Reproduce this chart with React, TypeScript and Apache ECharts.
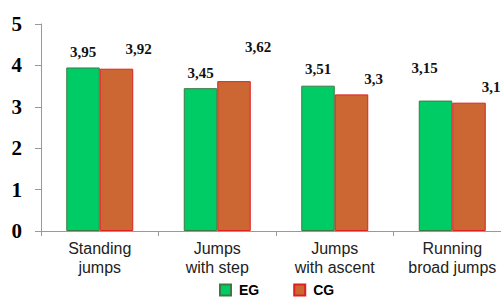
import React, { useEffect, useRef } from "react";
import * as echarts from "echarts";

const categories = ["Standing\njumps", "Jumps\nwith step", "Jumps\nwith ascent", "Running\nbroad jumps"];
const egValues = [3.95, 3.45, 3.51, 3.15];
const cgValues = [3.92, 3.62, 3.3, 3.1];
const yTicks = [0, 1, 2, 3, 4, 5];
const seriesNames = ["EG", "CG"];

// label offsets (style only)
const egLabelOffsets = [[0, -8], [0, -8], [0, -9], [-11, -25]];
const cgLabelOffsets = [[22, -12], [24, -27], [22, -8], [22, -8]];

const fmt = (v: number) => String(v).replace(".", ",");

export default function App() {
  const ref = useRef<HTMLDivElement>(null);
  useEffect(() => {
    if (!ref.current) return;
    const chart = echarts.init(ref.current, null, { renderer: "svg" });
    const labelBase = {
      show: true,
      position: "top",
      distance: 0,
      fontFamily: "Liberation Serif",
      fontWeight: "bold",
      fontSize: 15,
      color: "#111",
      formatter: (p: any) => fmt(p.value),
    };
    chart.setOption({
      animation: false,
      backgroundColor: "#ffffff",
      grid: { left: 41, top: 24, height: 207, width: 470, containLabel: false, outerBoundsMode: "none" },
      legend: {
        data: seriesNames,
        left: 219,
        top: 283,
        padding: 0,
        itemWidth: 11,
        itemHeight: 11,
        itemGap: 34,
        icon: "rect",
        textStyle: {
          fontFamily: "Liberation Sans",
          fontWeight: "bold",
          fontSize: 14,
          lineHeight: 12,
          color: "#000",
          padding: [0, 0, 0, 3],
        },
      },
      xAxis: {
        type: "category",
        data: categories,
        axisLine: { lineStyle: { color: "#999", width: 1 } },
        axisTick: { show: true, length: 5, lineStyle: { color: "#999" } },
        axisLabel: {
          margin: 8,
          fontFamily: "Liberation Sans",
          fontSize: 16,
          lineHeight: 19,
          color: "#222",
          interval: 0,
        },
      },
      yAxis: {
        type: "value",
        min: yTicks[0],
        max: yTicks[yTicks.length - 1],
        interval: 1,
        splitLine: { show: false },
        axisLine: { show: true, lineStyle: { color: "#999", width: 1 } },
        axisTick: { show: true, length: 6, lineStyle: { color: "#999" } },
        axisLabel: {
          margin: 19,
          fontFamily: "Liberation Serif",
          fontWeight: "bold",
          fontSize: 21,
          color: "#000",
        },
      },
      series: [
        {
          name: seriesNames[0],
          type: "bar",
          barWidth: 33.5,
          barGap: "0%",
          itemStyle: { color: "#00cc66", borderColor: "#3c7a44", borderWidth: 1 },
          data: egValues.map((v, i) => ({
            value: v,
            label: { ...labelBase, offset: egLabelOffsets[i] },
          })),
        },
        {
          name: seriesNames[1],
          type: "bar",
          barWidth: 33.5,
          barGap: "0%",
          itemStyle: { color: "#cc6633", borderColor: "#dd2020", borderWidth: 1 },
          data: cgValues.map((v, i) => ({
            value: v,
            label: { ...labelBase, offset: cgLabelOffsets[i] },
          })),
        },
      ],
    });
    return () => chart.dispose();
  }, []);
  return <div ref={ref} style={{ width: 501, height: 297, position: "fixed", left: 0, top: 0 }} />;
}
